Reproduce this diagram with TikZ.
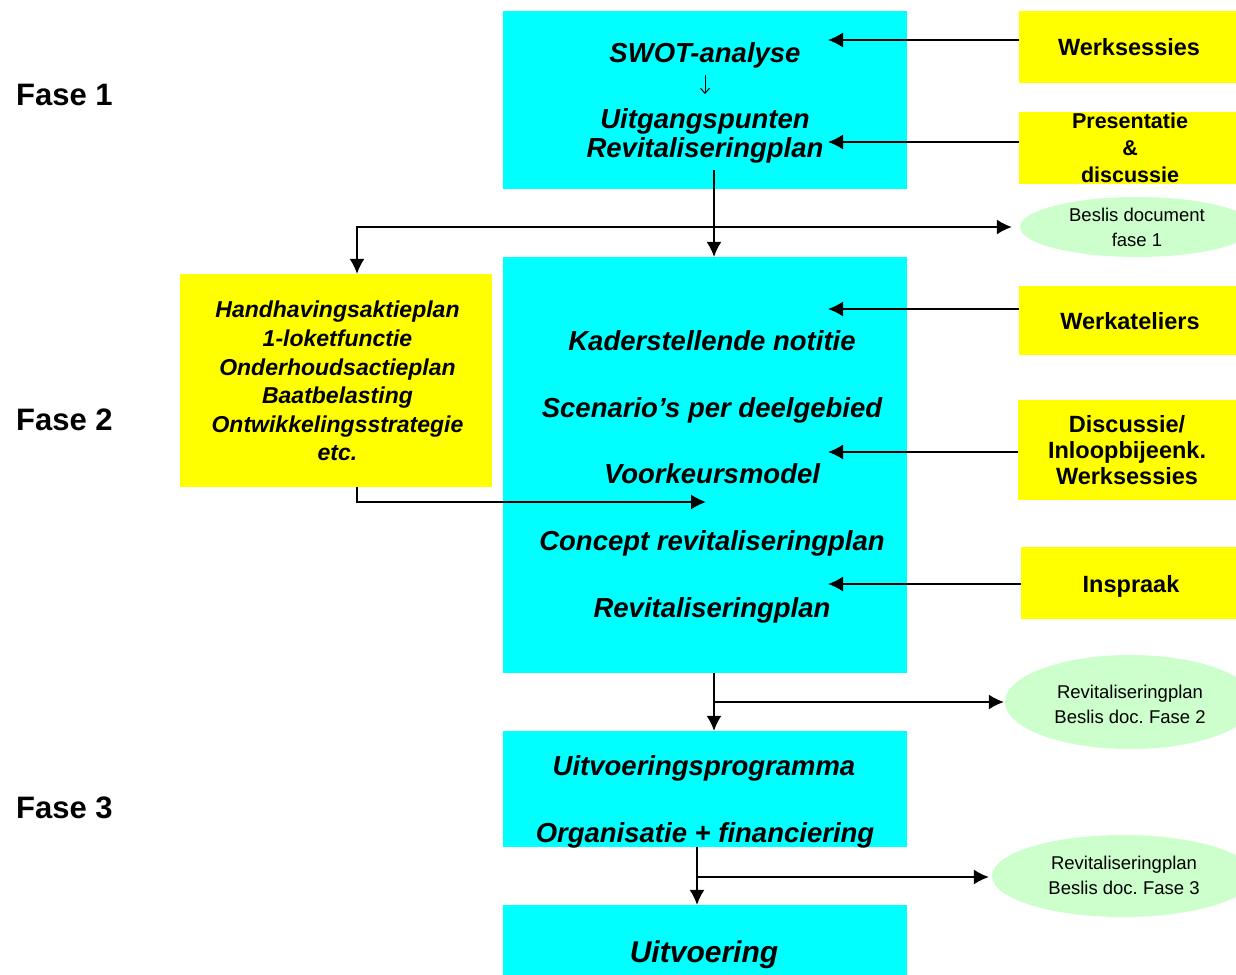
\documentclass[tikz,border=0pt]{standalone}
\usepackage{fontspec}
\setmainfont{Liberation Sans}
\usetikzlibrary{arrows.meta,shapes.geometric}
\definecolor{cy}{RGB}{0,255,255}
\definecolor{ye}{RGB}{255,255,0}
\definecolor{lg}{RGB}{204,255,204}
\begin{document}
\begin{tikzpicture}[x=1pt,y=-1pt,
  cbox/.style={fill=cy,draw=none,inner sep=0pt,minimum width=404pt},
  ybox/.style={fill=ye,draw=none,inner sep=0pt},
  ell/.style={ellipse,fill=lg,draw=none,inner sep=0pt},
  mt/.style={anchor=base,inner sep=0pt,font=\fontsize{27.5}{33}\selectfont\bfseries\itshape},
  yt/.style={anchor=base,inner sep=0pt,font=\fontsize{23.5}{28}\selectfont\bfseries},
  et/.style={anchor=north,inner sep=0pt,align=center,font=\fontsize{18.5}{25}\selectfont},
  fase/.style={anchor=base west,inner sep=0pt,font=\fontsize{31}{36}\selectfont\bfseries},
  ln/.style={line width=1.4pt},
  arr/.style={line width=1.5pt,-{Latex[length=15pt,width=15pt]}},
  smallarr/.style={line width=1pt,-{Straight Barb[length=5pt,width=9pt]}}
]
\useasboundingbox (0,0) rectangle (1236,974);

% phase labels
\node[fase] (f1) at (16,105) {Fase 1};
\node[fase] (f2) at (16,430) {Fase 2};
\node[fase] (f3) at (16,818) {Fase 3};

% cyan boxes
\node[cbox,minimum height=178pt] (b1) at (705,100) {};
\node[cbox,minimum height=416pt] (b2) at (705,465) {};
\node[cbox,minimum height=116pt] (b3) at (705,789) {};
\node[cbox,minimum height=70pt] (b4) at (705,940) {};

% yellow boxes
\node[ybox,minimum width=312pt,minimum height=213pt] (lb) at (336,380.5) {};
\node[ybox,minimum width=218pt,minimum height=72pt] (w1) at (1128,47) {};
\node[ybox,minimum width=218pt,minimum height=72pt] (p1) at (1128,148) {};
\node[ybox,minimum width=218pt,minimum height=69pt] (w2) at (1128,320.5) {};
\node[ybox,minimum width=219pt,minimum height=100pt] (d1b) at (1127.5,450) {};
\node[ybox,minimum width=216pt,minimum height=72pt] (i1) at (1129,583) {};

% ellipses
\node[ell,minimum width=234pt,minimum height=60pt] (e1) at (1137,227) {};
\node[ell,minimum width=250pt,minimum height=94pt] (e2) at (1130,702) {};
\node[ell,minimum width=262pt,minimum height=82pt] (e3) at (1123,876) {};

% texts in cyan boxes
\node[mt] (t1) at (705,63) {SWOT-analyse};
\node[mt] (t2) at (705,128) {Uitgangspunten};
\node[mt] (t3) at (705,157) {Revitaliseringplan};
\node[mt] (t4) at (712,350) {Kaderstellende notitie};
\node[mt] (t5) at (712,417) {Scenario’s per deelgebied};
\node[mt] (t6) at (712,483) {Voorkeursmodel};
\node[mt] (t7) at (712,550) {Concept revitaliseringplan};
\node[mt] (t8) at (712,617) {Revitaliseringplan};
\node[mt] (t9) at (704,775) {Uitvoeringsprogramma};
\node[mt] (t10) at (705,842) {Organisatie + financiering};
\node[mt,font=\fontsize{30}{36}\selectfont\bfseries\itshape] (t11) at (704,962) {Uitvoering};

% text in left yellow box
\node[anchor=north,inner sep=0pt,align=center,font=\fontsize{23}{28.6}\selectfont\bfseries\itshape] (lt) at (337.5,301)
  {Handhavingsaktieplan\\1-loketfunctie\\Onderhoudsactieplan\\Baatbelasting\\Ontwikkelingsstrategie\\etc.};

% texts in right yellow boxes
\node[yt] (wt1) at (1129,55.5) {Werksessies};
\node[anchor=north,inner sep=0pt,align=center,font=\fontsize{21.5}{27}\selectfont\bfseries] (pt) at (1130,112.5)
  {Presentatie\\\&\\discussie};
\node[yt] (wt2) at (1130,329) {Werkateliers};
\node[anchor=north,inner sep=0pt,align=center,font=\fontsize{23.5}{26}\selectfont\bfseries] (dt) at (1127,415.5)
  {Discussie/\\Inloopbijeenk.\\Werksessies};
\node[yt] (it) at (1131,592) {Inspraak};

% ellipse texts
\node[et] (et1) at (1137,208) {Beslis document\\fase 1};
\node[et] (et2) at (1130,685) {Revitaliseringplan\\Beslis doc.\ Fase 2};
\node[et] (et3) at (1124,856) {Revitaliseringplan\\Beslis doc.\ Fase 3};

% small arrow in first box
\coordinate (sa) at (705,75);
\coordinate (sb) at (705,94);
\draw[smallarr] (sa) -- (sb);

% arrows from right boxes
\coordinate (a1) at (828,40);
\coordinate (a2) at (828,142);
\coordinate (a3) at (828,309);
\coordinate (a4) at (828,452);
\coordinate (a5) at (828,584);
\draw[arr] (w1.west |- a1) -- (a1);
\draw[arr] (p1.west |- a2) -- (a2);
\draw[arr] (w2.west |- a3) -- (a3);
\draw[arr] (d1b.west |- a4) -- (a4);
\draw[arr] (i1.west |- a5) -- (a5);

% phase 1 -> phase 2
\coordinate (s1) at (714,170);
\coordinate (j1) at (714,227);
\coordinate (l1) at (357,227);
\draw[arr] (s1) -- (s1 |- b2.north);
\draw[arr,shorten >=8pt] (j1) -- (j1 -| e1.west);
\draw[arr] (j1) -- (l1) -- (l1 |- lb.north);

% left box -> phase 2 box
\coordinate (l2) at (357,502);
\coordinate (l3) at (706,502);
\draw[arr] (l1 |- lb.south) -- (l2) -- (l3);

% phase 2 -> phase 3
\coordinate (j2) at (714,702);
\draw[arr] (j2 |- b2.south) -- (j2 |- b3.north);
\draw[arr,shorten >=1pt] (j2) -- (j2 -| e2.west);

% phase 3 -> uitvoering
\coordinate (j3) at (697,877);
\draw[arr] (j3 |- b3.south) -- (j3 |- b4.north);
\draw[arr,shorten >=3pt] (j3) -- (j3 -| e3.west);
\end{tikzpicture}
\end{document}
